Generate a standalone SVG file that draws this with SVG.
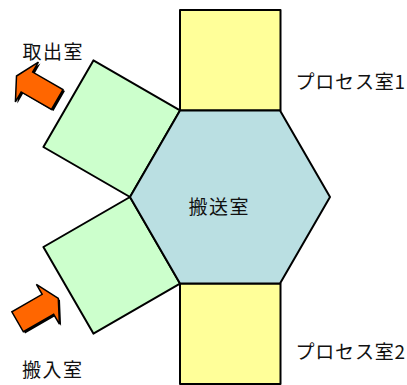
<svg xmlns="http://www.w3.org/2000/svg" width="407" height="385" viewBox="0 0 407 385">
<style>
.room{stroke:#000;stroke-width:2;stroke-linejoin:round}
.load{fill:#CCFFCC}
.proc{fill:#FFFF99}
.trans{fill:#BADFE2}
.lbl{font-family:"Noto Sans CJK JP","Noto Sans",sans-serif;font-size:19px;letter-spacing:1.5px;fill:#111}
.plbl{letter-spacing:0.8px}
.arrow{fill:#FF6600;stroke:#000;stroke-width:1.5;stroke-linejoin:miter}
.shadow{fill:#000}
</style>
<defs>
<polygon id="arr" points="0,0 -12,-23 -12,-11.5 -47,-11.5 -47,11.5 -12,11.5 -12,23"/>
</defs>
<g id="process1">
<rect class="room proc" x="180" y="10" width="100.5" height="100.4"/>
<text class="lbl plbl" x="295.5" y="89">プロセス室1</text>
</g>
<g id="process2">
<rect class="room proc" x="180" y="283.6" width="100.5" height="100.4"/>
<text class="lbl plbl" x="295.5" y="359">プロセス室2</text>
</g>
<g id="unload">
<polygon class="room load" points="180,110.4 130,197 43.4,147 93.4,60.4"/>
<text class="lbl" x="22.5" y="59">取出室</text>
</g>
<g id="load">
<polygon class="room load" points="130,197 180,283.6 93.4,333.6 43.4,247"/>
<text class="lbl" x="22" y="377">搬入室</text>
</g>
<g id="transfer">
<polygon class="room trans" points="180,110.4 280,110.4 330,197 280,283.6 180,283.6 130,197"/>
<text class="lbl" x="188.5" y="214">搬送室</text>
</g>
<g id="connectors">
<g transform="translate(18.5,77.5) rotate(-150)">
<use href="#arr" class="shadow"/>
</g>
<g transform="translate(16.5,76) rotate(-150)">
<use href="#arr" class="arrow"/>
</g>
<g transform="translate(60,300) rotate(-30)">
<use href="#arr" class="shadow"/>
</g>
<g transform="translate(58.3,298.3) rotate(-30)">
<use href="#arr" class="arrow"/>
</g>
</g>
</svg>
